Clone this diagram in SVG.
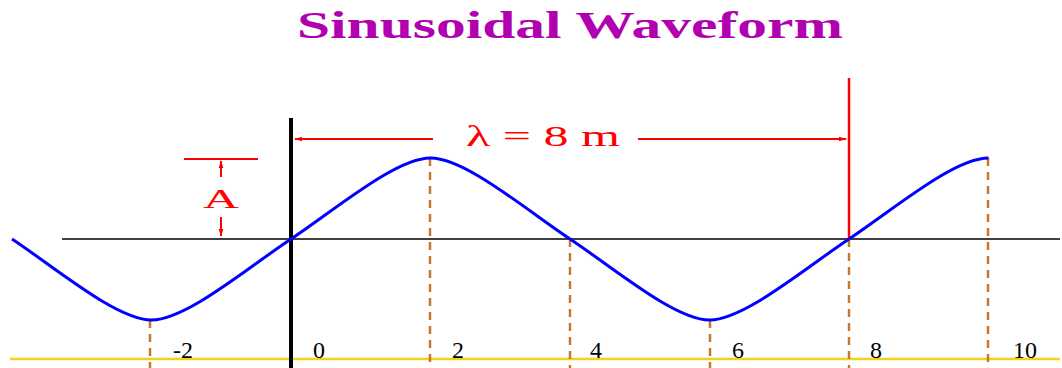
<svg xmlns="http://www.w3.org/2000/svg" width="1062" height="368" viewBox="0 0 1062 368">
<defs>
<marker id="arr" viewBox="0 0 10 10" refX="9" refY="5" markerWidth="8" markerHeight="8" orient="auto-start-reverse" markerUnits="userSpaceOnUse">
<path d="M0,2 L10,5 L0,8 Z" fill="#ff0000"/>
</marker>
</defs>
<style>
.dash{stroke:#c8782a;stroke-width:2.5;stroke-dasharray:8,6;fill:none}
.red{stroke:#ff0000;stroke-width:2;fill:none}
.tick{font-family:"Liberation Serif",serif;font-size:24px;fill:#000}
</style>
<rect width="1062" height="368" fill="#ffffff"/>
<text x="297" y="38" font-family="Liberation Serif,serif" font-weight="bold" font-size="37" fill="#b000b0" textLength="546" lengthAdjust="spacingAndGlyphs">Sinusoidal Waveform</text>
<g id="guides">
<line x1="10" y1="359" x2="1060" y2="359" stroke="#f2d21c" stroke-width="2.5"/>
<line class="dash" x1="150" y1="320" x2="150" y2="368"/>
<line class="dash" x1="430" y1="158" x2="430" y2="368"/>
<line class="dash" x1="570" y1="239" x2="570" y2="368"/>
<line class="dash" x1="710" y1="320" x2="710" y2="368"/>
<line class="dash" x1="849" y1="239" x2="849" y2="368"/>
<line class="dash" x1="988" y1="158" x2="988" y2="368"/>
<line x1="62" y1="239" x2="1060" y2="239" stroke="#000" stroke-width="1.5"/>
<line x1="291" y1="118" x2="291" y2="368" stroke="#000" stroke-width="4"/>
<line x1="849" y1="78" x2="849" y2="239" stroke="#ff0000" stroke-width="2.5"/>
</g>
<g id="wave">
<path d="M12,239 c45,30 105,81 139.5,81 c34.5,0 94.5,-51 139.5,-81 c45,-30 105,-81 139.5,-81 c34.5,0 94.5,51 139.5,81 c45,30 105,81 139.5,81 c34.5,0 94.5,-51 139.5,-81 c45,-30 105,-81 139.5,-81" fill="none" stroke="#0000ff" stroke-width="3"/>
</g>
<g id="wavelength">
<line class="red" x1="433" y1="139" x2="295" y2="139" marker-end="url(#arr)"/>
<line class="red" x1="638" y1="139" x2="846" y2="139" marker-end="url(#arr)"/>
<text x="543" y="146" text-anchor="middle" font-family="Liberation Serif,serif" font-size="29" fill="#ff0000" textLength="154" lengthAdjust="spacingAndGlyphs">λ = 8 m</text>
</g>
<g id="amplitude">
<line class="red" x1="184" y1="159" x2="258" y2="159"/>
<line class="red" x1="221" y1="177" x2="221" y2="161" marker-end="url(#arr)"/>
<text x="221" y="208" text-anchor="middle" font-family="Liberation Serif,serif" font-size="28" fill="#ff0000" textLength="36" lengthAdjust="spacingAndGlyphs">A</text>
<line class="red" x1="221" y1="217" x2="221" y2="236" marker-end="url(#arr)"/>
</g>
<g id="ticks">
<text class="tick" x="173" y="358">-2</text>
<text class="tick" x="313" y="358">0</text>
<text class="tick" x="452" y="358">2</text>
<text class="tick" x="590" y="358">4</text>
<text class="tick" x="732" y="358">6</text>
<text class="tick" x="870" y="358">8</text>
<text class="tick" x="1013" y="358">10</text>
</g>
</svg>
